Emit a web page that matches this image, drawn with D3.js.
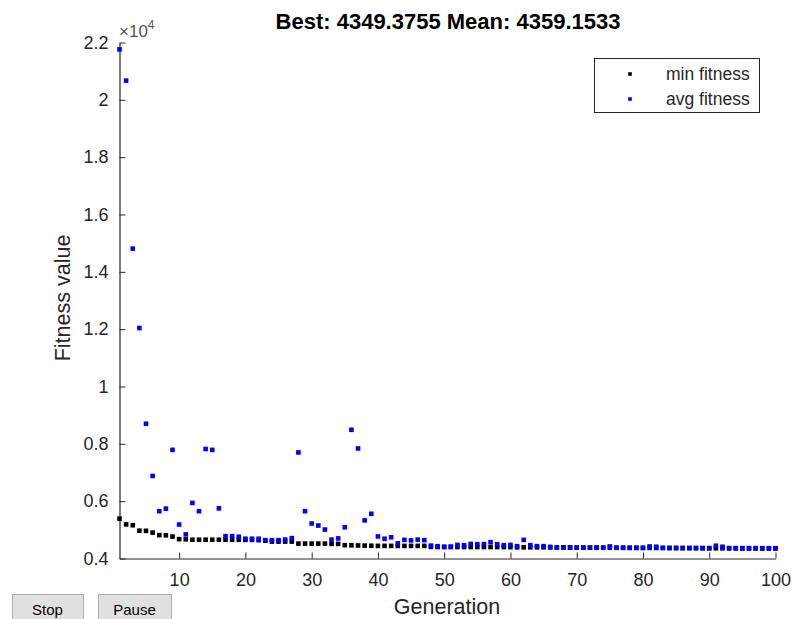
<!DOCTYPE html>
<html>
<head>
<meta charset="utf-8">
<script src="https://cdn.jsdelivr.net/npm/d3@7"></script>
<style>
  html, body { margin: 0; padding: 0; background: #fff; }
  svg { display: block; font-family: "Liberation Sans", Arial, Helvetica, sans-serif; }
</style>
</head>
<body>
<svg id="chart" width="792" height="619"></svg>
<script>
// Genetic algorithm progress: best and average fitness per generation
const generations = d3.range(1, 101);

const minFitness = [
  5390, 5190, 5160, 4970, 4965, 4905, 4815, 4810, 4765, 4675,
  4670, 4655, 4655, 4655, 4655, 4655, 4655, 4655, 4655, 4650,
  4650, 4640, 4620, 4590, 4590, 4590, 4590, 4520, 4520, 4520,
  4520, 4520, 4510, 4510, 4465, 4460, 4455, 4450, 4445, 4440,
  4440, 4440, 4440, 4440, 4440, 4440, 4440, 4405, 4400, 4400,
  4400, 4400, 4400, 4400, 4400, 4400, 4400, 4400, 4400, 4395,
  4390, 4390, 4390, 4390, 4390, 4385, 4385, 4385, 4385, 4380,
  4380, 4380, 4380, 4378, 4378, 4375, 4375, 4372, 4372, 4370,
  4370, 4368, 4368, 4365, 4365, 4362, 4362, 4360, 4358, 4356,
  4356, 4355, 4354, 4352, 4351, 4350, 4349.5, 4349.4, 4349.4, 4349.3755
];

const avgFitness = [
  21760, 20670, 14810, 12040, 8700, 6880, 5650, 5740, 7790, 5185,
  4840, 5940, 5650, 7820, 7790, 5750, 4780, 4780, 4760, 4690,
  4690, 4690, 4640, 4640, 4640, 4660, 4710, 7700, 5650, 5220,
  5150, 5010, 4660, 4700, 5090, 8490, 7840, 5330, 5560, 4770,
  4690, 4740, 4530, 4650, 4630, 4660, 4640, 4450, 4430, 4410,
  4415, 4475, 4465, 4510, 4500, 4500, 4570, 4500, 4465, 4475,
  4430, 4650, 4465, 4430, 4430, 4405, 4385, 4380, 4380, 4378,
  4378, 4376, 4376, 4375, 4420, 4375, 4374, 4372, 4372, 4370,
  4420, 4410, 4370, 4368, 4368, 4366, 4366, 4365, 4365, 4364,
  4445, 4410, 4364, 4363, 4362, 4362, 4361, 4360, 4360, 4359.1533
];

const xTicks = [10, 20, 30, 40, 50, 60, 70, 80, 90, 100];
const yTicks = [4000, 6000, 8000, 10000, 12000, 14000, 16000, 18000, 20000, 22000];
const seriesNames = ["min fitness", "avg fitness"];
const seriesColors = ["#000000", "#0000ff"];

const bestValue = minFitness[minFitness.length - 1];
const meanValue = avgFitness[avgFitness.length - 1];

const svg = d3.select("#chart");
const axisColor = "#262626";

const x = d3.scaleLinear().domain([1, 100]).range([119.5, 775.5]);
const y = d3.scaleLinear().domain([4000, 22000]).range([558.5, 42.5]);

// Title
svg.append("text")
  .attr("x", 448).attr("y", 29)
  .attr("text-anchor", "middle")
  .attr("font-size", 22).attr("font-weight", "bold").attr("fill", "#000")
  .text(`Best: ${bestValue.toFixed(4)} Mean: ${meanValue.toFixed(4)}`);

// Axes (ticks point inward)
const xAxis = d3.axisBottom(x).tickValues(xTicks).tickSizeInner(-6).tickSizeOuter(0).tickPadding(15);
const yAxis = d3.axisLeft(y).tickValues(yTicks).tickSizeInner(-6).tickSizeOuter(0).tickPadding(11)
  .tickFormat(d => d3.format("")(+(d / 10000).toFixed(1)));

const gx = svg.append("g").attr("transform", "translate(0,558.5)").call(xAxis);
const gy = svg.append("g").attr("transform", "translate(119.5,0)").call(yAxis);

[gx, gy].forEach(g => {
  g.select(".domain").attr("stroke", axisColor).attr("stroke-width", 1.2);
  g.selectAll(".tick line").attr("stroke", axisColor).attr("stroke-width", 1);
  g.selectAll(".tick text").attr("fill", axisColor).attr("font-size", 18)
    .attr("font-family", "\"Liberation Sans\", Arial, sans-serif");
});

// Exponent marker above the y axis
const expo = svg.append("text")
  .attr("x", 119).attr("y", 37)
  .attr("font-size", 17).attr("fill", "#555");
expo.append("tspan").text("\u00d710");
expo.append("tspan").attr("dy", -8).attr("font-size", 12).text("4");

// Axis labels
svg.append("text")
  .attr("x", 447).attr("y", 614)
  .attr("text-anchor", "middle")
  .attr("font-size", 21.5).attr("fill", axisColor)
  .text("Generation");

svg.append("text")
  .attr("transform", "translate(70,298) rotate(-90)")
  .attr("text-anchor", "middle")
  .attr("font-size", 21.5).attr("fill", axisColor)
  .text("Fitness value");

// Data markers
const m = 4.6;
const series = [minFitness, avgFitness];
series.forEach((vals, i) => {
  svg.append("g").selectAll("rect")
    .data(generations)
    .join("rect")
    .attr("x", g => x(g) - m / 2)
    .attr("y", (g, k) => y(vals[k]) - m / 2)
    .attr("width", m).attr("height", m)
    .attr("fill", seriesColors[i]);
});

// Legend
const lg = svg.append("g");
lg.append("rect")
  .attr("x", 594.5).attr("y", 58.5).attr("width", 165).attr("height", 54)
  .attr("fill", "#fff").attr("stroke", axisColor).attr("stroke-width", 1);
seriesNames.forEach((name, i) => {
  const cy = 74 + i * 25;
  lg.append("rect")
    .attr("x", 630 - 1.8).attr("y", cy - 1.8)
    .attr("width", 3.6).attr("height", 3.6)
    .attr("fill", seriesColors[i]);
  lg.append("text")
    .attr("x", 666).attr("y", cy + 6)
    .attr("font-size", 17.5).attr("fill", axisColor)
    .text(name);
});

// Control buttons
const buttons = [{ label: "Stop", x: 12, w: 71 }, { label: "Pause", x: 98, w: 73 }];
buttons.forEach(b => {
  svg.append("rect")
    .attr("x", b.x + 0.5).attr("y", 594.5).attr("width", b.w).attr("height", 30)
    .attr("fill", "#e1e1e1").attr("stroke", "#adadad").attr("stroke-width", 1);
  svg.append("text")
    .attr("x", b.x + b.w / 2).attr("y", 615)
    .attr("text-anchor", "middle")
    .attr("font-size", 15).attr("fill", "#000")
    .text(b.label);
});
</script>
</body>
</html>
